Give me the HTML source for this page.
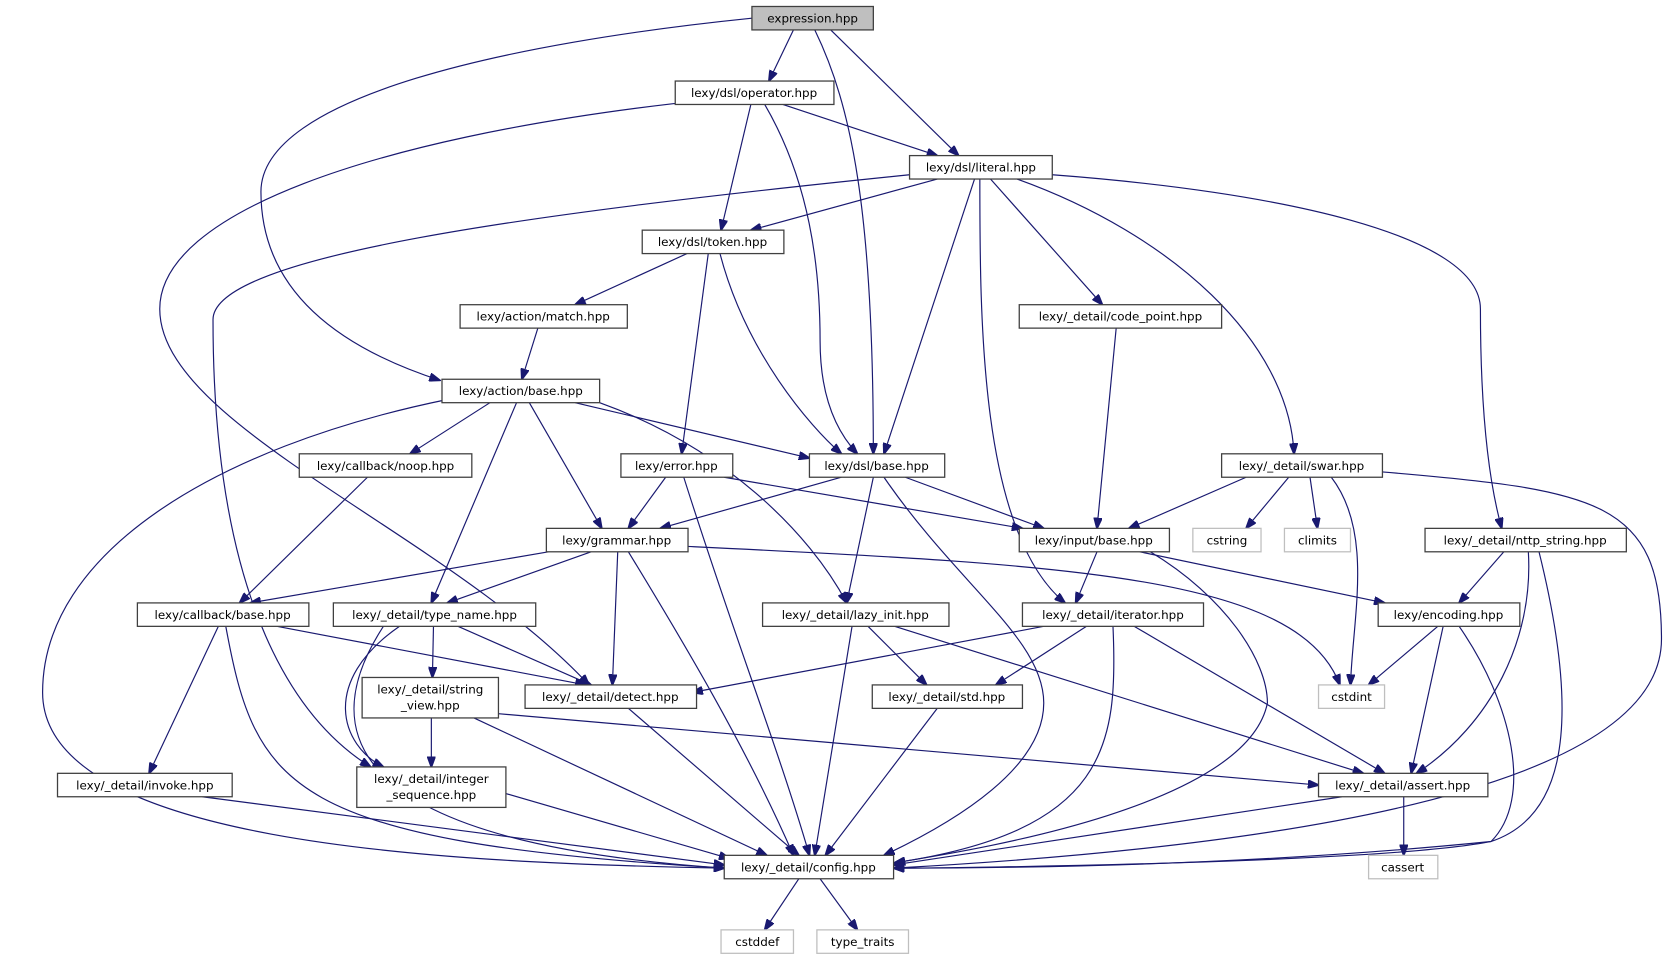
<!DOCTYPE html>
<html><head><meta charset="utf-8"><style>
html,body{margin:0;padding:0;background:#fff;}
svg{display:block}
text{font-family:"DejaVu Sans","Liberation Sans",sans-serif;font-size:11.2px;fill:#000;text-anchor:middle}
.n{fill:#fff;stroke:#404040;stroke-width:1.2}
.g{fill:#fff;stroke:#bfbfbf;stroke-width:1.2}
.e{fill:none;stroke:#191970;stroke-width:1.1}
</style></head><body>
<svg width="1670" height="963" viewBox="0 0 1568 904" xmlns="http://www.w3.org/2000/svg">
<defs><marker id="a" markerWidth="11" markerHeight="8" refX="10" refY="4" orient="auto" markerUnits="userSpaceOnUse"><path d="M0,0 L11,4 L0,8 z" fill="#191970" stroke="#191970"/></marker></defs>
<g class="e" marker-end="url(#a)">
<path d="M706,17 C480,40 245,90 245,180 C245,280 330,330 413,357"/>
<path d="M745,28 L722,76"/>
<path d="M765,28 C800,100 820,200 820,426"/>
<path d="M780,28 L900,146"/>
<path d="M634,97 C350,130 150,200 150,290 C150,400 420,500 553,643"/>
<path d="M705,98 L677,216"/>
<path d="M718,98 C760,170 770,250 770,320 C770,380 790,410 805,426"/>
<path d="M735,98 L880,146"/>
<path d="M854,164 C500,200 200,240 200,300 C200,600 300,690 348,720"/>
<path d="M880,168 L705,216"/>
<path d="M915,168 L830,426"/>
<path d="M930,168 L1035,286"/>
<path d="M920,168 C920,300 920,500 1000,566"/>
<path d="M955,168 C1100,220 1210,320 1215,426"/>
<path d="M988,164 C1200,180 1390,220 1390,290 C1390,400 1400,460 1410,496"/>
<path d="M645,238 L540,286"/>
<path d="M665,238 L640,426"/>
<path d="M676,238 C700,330 760,400 790,426"/>
<path d="M505,308 L490,356"/>
<path d="M1048,308 L1030,496"/>
<path d="M420,375 C200,420 40,520 40,650 C40,790 400,810 680,815"/>
<path d="M460,378 L385,426"/>
<path d="M485,378 L405,566"/>
<path d="M497,378 L565,496"/>
<path d="M540,378 L760,430"/>
<path d="M563,378 C680,420 760,500 795,566"/>
<path d="M345,448 L225,566"/>
<path d="M625,448 L590,496"/>
<path d="M642,448 C690,600 730,700 760,803"/>
<path d="M680,448 L960,496"/>
<path d="M790,448 L620,496"/>
<path d="M820,448 L795,566"/>
<path d="M830,448 C900,550 980,600 980,660 C980,720 900,770 830,803"/>
<path d="M850,448 L980,496"/>
<path d="M1170,448 L1060,496"/>
<path d="M1210,448 L1170,496"/>
<path d="M1230,448 L1237,496"/>
<path d="M1250,448 C1290,500 1270,580 1268,643"/>
<path d="M1298,443 C1500,460 1560,470 1560,600 C1560,720 1300,790 839,815"/>
<path d="M515,518 L235,566"/>
<path d="M555,518 L420,566"/>
<path d="M580,518 L575,643"/>
<path d="M590,518 C640,600 700,700 745,803"/>
<path d="M646,513 C1000,530 1220,540 1258,643"/>
<path d="M1030,518 L1010,566"/>
<path d="M1070,518 L1300,566"/>
<path d="M1080,518 C1150,560 1190,620 1190,660 C1170,760 900,800 840,810"/>
<path d="M1412,518 L1370,566"/>
<path d="M1435,518 C1440,600 1400,680 1330,726"/>
<path d="M1445,518 C1490,700 1460,770 1400,790 C1200,810 1000,815 839,815"/>
<path d="M205,588 L140,726"/>
<path d="M212,588 C240,740 270,790 680,815"/>
<path d="M260,588 L550,643"/>
<path d="M407,588 L406,636"/>
<path d="M375,588 C300,640 320,700 360,720"/>
<path d="M360,588 C300,680 310,790 680,815"/>
<path d="M430,588 L555,643"/>
<path d="M800,588 L765,803"/>
<path d="M815,588 L870,643"/>
<path d="M840,588 L1280,726"/>
<path d="M980,588 L650,650"/>
<path d="M1020,588 L935,643"/>
<path d="M1045,588 C1050,700 1040,780 840,810"/>
<path d="M1065,588 L1300,726"/>
<path d="M1350,588 L1285,643"/>
<path d="M1355,588 L1325,726"/>
<path d="M1370,588 C1420,660 1440,750 1400,790 C1300,810 900,815 839,815"/>
<path d="M405,674 L405,720"/>
<path d="M468,670 L1238,737"/>
<path d="M445,674 L720,803"/>
<path d="M590,665 L750,803"/>
<path d="M880,665 L775,803"/>
<path d="M190,748 L680,812"/>
<path d="M475,745 L685,806"/>
<path d="M1260,748 L839,812"/>
<path d="M1318,748 L1318,803"/>
<path d="M750,825 L718,873"/>
<path d="M770,825 L805,873"/>
</g>
<g>
<rect x="706" y="6" width="114" height="22" fill="#bfbfbf" stroke="#404040" stroke-width="1.2"/><text x="763" y="21">expression.hpp</text>
<rect class="n" x="634" y="76" width="149" height="22"/><text x="708" y="91">lexy/dsl/operator.hpp</text>
<rect class="n" x="854" y="146" width="134" height="22"/><text x="921" y="161">lexy/dsl/literal.hpp</text>
<rect class="n" x="603" y="216" width="133" height="22"/><text x="669" y="231">lexy/dsl/token.hpp</text>
<rect class="n" x="432" y="286" width="157" height="22"/><text x="510" y="301">lexy/action/match.hpp</text>
<rect class="n" x="957" y="286" width="190" height="22"/><text x="1052" y="301">lexy/_detail/code_point.hpp</text>
<rect class="n" x="415" y="356" width="148" height="22"/><text x="489" y="371">lexy/action/base.hpp</text>
<rect class="n" x="281" y="426" width="162" height="22"/><text x="362" y="441">lexy/callback/noop.hpp</text>
<rect class="n" x="583" y="426" width="105" height="22"/><text x="635" y="441">lexy/error.hpp</text>
<rect class="n" x="760" y="426" width="127" height="22"/><text x="823" y="441">lexy/dsl/base.hpp</text>
<rect class="n" x="1147" y="426" width="151" height="22"/><text x="1222" y="441">lexy/_detail/swar.hpp</text>
<rect class="n" x="513" y="496" width="133" height="22"/><text x="579" y="511">lexy/grammar.hpp</text>
<rect class="n" x="957" y="496" width="141" height="22"/><text x="1027" y="511">lexy/input/base.hpp</text>
<rect class="g" x="1120" y="496" width="64" height="22"/><text x="1152" y="511">cstring</text>
<rect class="g" x="1206" y="496" width="62" height="22"/><text x="1237" y="511">climits</text>
<rect class="n" x="1338" y="496" width="189" height="22"/><text x="1432" y="511">lexy/_detail/nttp_string.hpp</text>
<rect class="n" x="129" y="566" width="161" height="22"/><text x="209" y="581">lexy/callback/base.hpp</text>
<rect class="n" x="313" y="566" width="190" height="22"/><text x="408" y="581">lexy/_detail/type_name.hpp</text>
<rect class="n" x="716" y="566" width="175" height="22"/><text x="803" y="581">lexy/_detail/lazy_init.hpp</text>
<rect class="n" x="960" y="566" width="170" height="22"/><text x="1045" y="581">lexy/_detail/iterator.hpp</text>
<rect class="n" x="1294" y="566" width="133" height="22"/><text x="1360" y="581">lexy/encoding.hpp</text>
<rect class="n" x="340" y="636" width="128" height="38"/><text x="404" y="651">lexy/_detail/string</text><text x="404" y="666">_view.hpp</text>
<rect class="n" x="493" y="643" width="161" height="22"/><text x="573" y="658">lexy/_detail/detect.hpp</text>
<rect class="n" x="819" y="643" width="141" height="22"/><text x="889" y="658">lexy/_detail/std.hpp</text>
<rect class="g" x="1238" y="643" width="62" height="22"/><text x="1269" y="658">cstdint</text>
<rect class="n" x="54" y="726" width="164" height="22"/><text x="136" y="741">lexy/_detail/invoke.hpp</text>
<rect class="n" x="335" y="720" width="140" height="38"/><text x="405" y="735">lexy/_detail/integer</text><text x="405" y="750">_sequence.hpp</text>
<rect class="n" x="1238" y="726" width="159" height="22"/><text x="1317" y="741">lexy/_detail/assert.hpp</text>
<rect class="n" x="680" y="803" width="159" height="22"/><text x="759" y="818">lexy/_detail/config.hpp</text>
<rect class="g" x="1285" y="803" width="65" height="22"/><text x="1317" y="818">cassert</text>
<rect class="g" x="677" y="873" width="68" height="22"/><text x="711" y="888">cstddef</text>
<rect class="g" x="767" y="873" width="86" height="22"/><text x="810" y="888">type_traits</text>
</g>
</svg>
</body></html>
